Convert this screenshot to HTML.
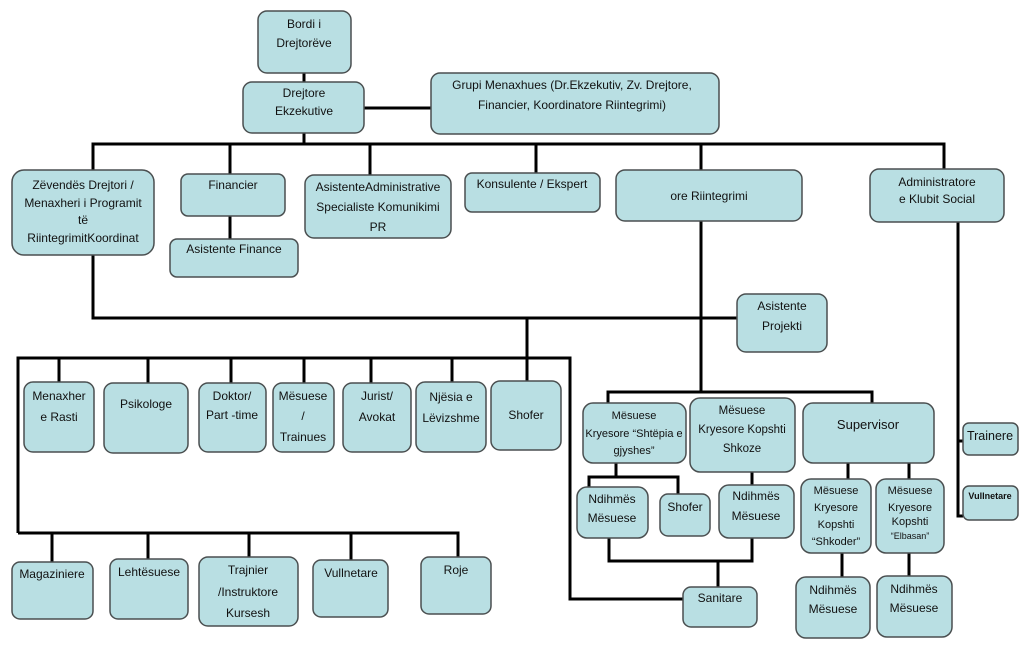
<!DOCTYPE html>
<html><head><meta charset="utf-8"><style>
html,body{margin:0;padding:0;background:#fff;}
svg{display:block}
text{font-family:"Liberation Sans",sans-serif;font-size:12px;fill:#111;text-anchor:middle}
.b{fill:#b9dfe3;stroke:#4a4f50;stroke-width:1.5}
.l{stroke:#000;stroke-width:3;fill:none}
</style></head><body>
<svg width="1024" height="656" viewBox="0 0 1024 656">
<!-- lines -->
<g class="l">
<path d="M304 73V82"/>
<path d="M364 108H431"/>
<path d="M304 133V144"/>
<path d="M93 170V144H944V169"/>
<path d="M230 144V174"/><path d="M370 144V175"/><path d="M536 144V173"/><path d="M701 144V170"/>
<path d="M230 216V239"/>
<path d="M93 255V318H737"/>
<path d="M527 318V381"/>
<path d="M18 533V358H570V599H683"/>
<path d="M59 358V382"/><path d="M148 358V383"/><path d="M231 358V383"/><path d="M304 358V383"/><path d="M371 358V383"/><path d="M452 358V383"/>
<path d="M18 533H458V557"/>
<path d="M52 533V562"/><path d="M148 533V559"/><path d="M249 533V557"/><path d="M351 533V560"/>
<path d="M701 221V392"/>
<path d="M608 403V392H872V403"/>
<path d="M616 463V477"/><path d="M589 487V477H678V494"/>
<path d="M752 472V485"/>
<path d="M609 538V561H752V538"/><path d="M718 561V587"/>
<path d="M848 463V479"/><path d="M909 463V479"/>
<path d="M842 553V577"/><path d="M909 553V576"/>
<path d="M958 222V516H963"/><path d="M958 441H963"/>
</g>
<!-- boxes -->
<g class="b">
<rect x="258" y="11" width="93" height="62" rx="9"/>
<rect x="243" y="82" width="121" height="51" rx="9"/>
<rect x="431" y="73" width="288" height="61" rx="9"/>
<rect x="12" y="170" width="142" height="85" rx="12"/>
<rect x="181" y="174" width="104" height="42" rx="7"/>
<rect x="170" y="239" width="128" height="38" rx="7"/>
<rect x="305" y="175" width="146" height="63" rx="9"/>
<rect x="465" y="173" width="135" height="39" rx="7"/>
<rect x="616" y="170" width="186" height="51" rx="9"/>
<rect x="870" y="169" width="134" height="53" rx="9"/>
<rect x="737" y="294" width="90" height="58" rx="9"/>
<rect x="24" y="382" width="70" height="70" rx="9"/>
<rect x="104" y="383" width="84" height="70" rx="9"/>
<rect x="199" y="383" width="67" height="69" rx="9"/>
<rect x="273" y="383" width="61" height="69" rx="9"/>
<rect x="343" y="383" width="68" height="69" rx="9"/>
<rect x="416" y="382" width="70" height="70" rx="9"/>
<rect x="491" y="381" width="70" height="69" rx="9"/>
<rect x="12" y="562" width="81" height="57" rx="8"/>
<rect x="110" y="559" width="78" height="60" rx="8"/>
<rect x="199" y="557" width="99" height="69" rx="9"/>
<rect x="313" y="560" width="75" height="57" rx="8"/>
<rect x="421" y="557" width="70" height="57" rx="8"/>
<rect x="583" y="403" width="103" height="60" rx="10"/>
<rect x="690" y="398" width="105" height="74" rx="10"/>
<rect x="803" y="403" width="131" height="60" rx="10"/>
<rect x="577" y="487" width="71" height="51" rx="10"/>
<rect x="660" y="494" width="50" height="42" rx="8"/>
<rect x="719" y="485" width="75" height="53" rx="10"/>
<rect x="683" y="587" width="74" height="40" rx="8"/>
<rect x="801" y="479" width="70" height="74" rx="10"/>
<rect x="876" y="479" width="68" height="74" rx="10"/>
<rect x="796" y="577" width="74" height="61" rx="10"/>
<rect x="877" y="576" width="75" height="61" rx="10"/>
<rect x="963" y="423" width="55" height="32" rx="6"/>
<rect x="963" y="486" width="55" height="34" rx="6"/>
</g>
<!-- text -->
<text x="304" y="28">Bordi i</text><text x="304" y="47">Drejtorëve</text>
<text x="304" y="97">Drejtore</text><text x="304" y="115">Ekzekutive</text>
<text x="572" y="89">Grupi Menaxhues (Dr.Ekzekutiv, Zv. Drejtore,</text>
<text x="572" y="109">Financier, Koordinatore Riintegrimi)</text>
<text x="83" y="189">Zëvendës Drejtori /</text>
<text x="83" y="207">Menaxheri i Programit</text>
<text x="83" y="224">të</text>
<text x="83" y="242">RiintegrimitKoordinat</text>
<text x="233" y="189">Financier</text>
<text x="234" y="253">Asistente Finance</text>
<text x="378" y="191">AsistenteAdministrative</text>
<text x="378" y="211">Specialiste Komunikimi</text>
<text x="378" y="231">PR</text>
<text x="532" y="188">Konsulente / Ekspert</text>
<text x="709" y="200">ore Riintegrimi</text>
<text x="937" y="186">Administratore</text>
<text x="937" y="203">e Klubit Social</text>
<text x="782" y="310">Asistente</text><text x="782" y="330">Projekti</text>
<text x="59" y="400">Menaxher</text><text x="59" y="421">e Rasti</text>
<text x="146" y="408">Psikologe</text>
<text x="232" y="400">Doktor/</text><text x="232" y="419">Part -time</text>
<text x="303" y="400">Mësuese</text><text x="303" y="420">/</text><text x="303" y="441">Trainues</text>
<text x="377" y="400">Jurist/</text><text x="377" y="421">Avokat</text>
<text x="451" y="401">Njësia e</text><text x="451" y="422">Lëvizshme</text>
<text x="526" y="419">Shofer</text>
<text x="52" y="578">Magaziniere</text>
<text x="149" y="576">Lehtësuese</text>
<text x="248" y="574">Trajnier</text><text x="248" y="596">/Instruktore</text><text x="248" y="617">Kursesh</text>
<text x="351" y="577">Vullnetare</text>
<text x="456" y="574">Roje</text>
<text x="634" y="419" style="font-size:11px">Mësuese</text>
<text x="634" y="437" style="font-size:11px">Kryesore “Shtëpia e</text>
<text x="634" y="454" style="font-size:11px">gjyshes”</text>
<text x="742" y="414" style="font-size:11.5px">Mësuese</text>
<text x="742" y="433" style="font-size:11.5px">Kryesore Kopshti</text>
<text x="742" y="452" style="font-size:11.5px">Shkoze</text>
<text x="868" y="429" style="font-size:13px">Supervisor</text>
<text x="612" y="503">Ndihmës</text><text x="612" y="522">Mësuese</text>
<text x="685" y="511">Shofer</text>
<text x="756" y="500">Ndihmës</text><text x="756" y="520">Mësuese</text>
<text x="720" y="602">Sanitare</text>
<text x="836" y="494" style="font-size:11px">Mësuese</text>
<text x="836" y="511" style="font-size:11px">Kryesore</text>
<text x="836" y="528" style="font-size:11px">Kopshti</text>
<text x="836" y="545" style="font-size:11px">“Shkoder”</text>
<text x="910" y="494" style="font-size:11px">Mësuese</text>
<text x="910" y="511" style="font-size:11px">Kryesore</text>
<text x="910" y="525" style="font-size:11px">Kopshti</text>
<text x="910" y="539" style="font-size:9px">“Elbasan”</text>
<text x="833" y="594">Ndihmës</text><text x="833" y="613">Mësuese</text>
<text x="914" y="593">Ndihmës</text><text x="914" y="612">Mësuese</text>
<text x="990" y="440" style="font-size:12.5px">Trainere</text>
<text x="990" y="499" style="font-size:9px;font-weight:bold">Vullnetare</text>
</svg>
</body></html>
